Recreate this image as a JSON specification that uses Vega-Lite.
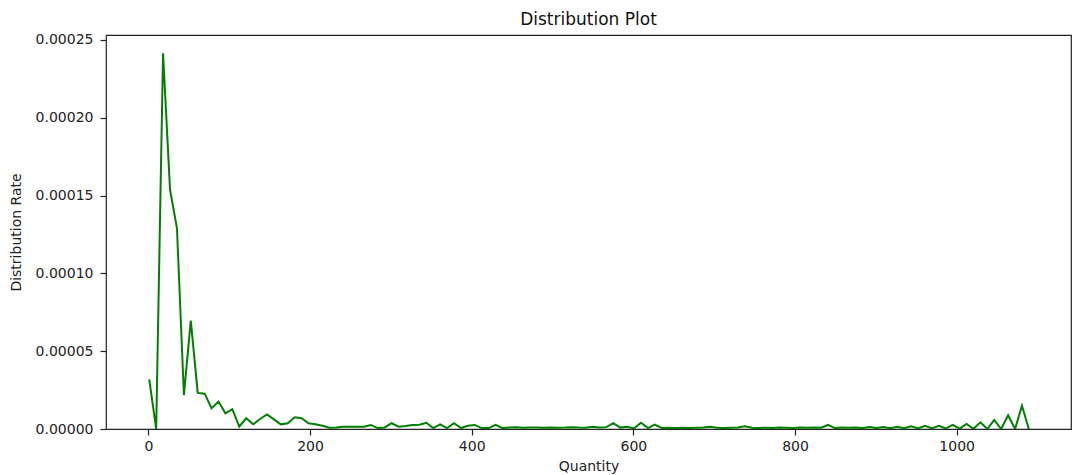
{
  "$schema": "https://vega.github.io/schema/vega-lite/v6.json",
  "width": 965,
  "height": 394,
  "autosize": {"type": "none"},
  "padding": {"left": 106, "top": 35, "right": 2, "bottom": 46},
  "background": "white",
  "title": {
    "text": "Distribution Plot",
    "font": "DejaVu Sans",
    "fontSize": 17,
    "fontWeight": "normal",
    "color": "#111",
    "anchor": "middle",
    "offset": 4
  },
  "config": {
    "view": {"stroke": "#222", "strokeWidth": 1.2},
    "axis": {
      "domain": false,
      "grid": false,
      "labelFont": "DejaVu Sans",
      "labelFontSize": 14,
      "labelColor": "#222",
      "titleFont": "DejaVu Sans",
      "titleFontSize": 14,
      "titleFontWeight": "normal",
      "titleColor": "#222",
      "tickColor": "#222",
      "tickSize": 6,
      "tickWidth": 1.2
    }
  },
  "data": {
    "values": [
      {"Quantity": 1.0, "Rate": 0.0000319},
      {"Quantity": 9.6, "Rate": 0.0},
      {"Quantity": 18.1, "Rate": 0.0002415},
      {"Quantity": 26.7, "Rate": 0.000154},
      {"Quantity": 35.3, "Rate": 0.000129},
      {"Quantity": 43.9, "Rate": 0.0000218},
      {"Quantity": 52.4, "Rate": 0.0000696},
      {"Quantity": 61.0, "Rate": 0.0000232},
      {"Quantity": 69.6, "Rate": 0.0000227},
      {"Quantity": 78.1, "Rate": 0.0000133},
      {"Quantity": 86.7, "Rate": 0.0000176},
      {"Quantity": 95.3, "Rate": 0.0000101},
      {"Quantity": 103.8, "Rate": 0.0000127},
      {"Quantity": 112.4, "Rate": 0.0000016},
      {"Quantity": 121.0, "Rate": 0.0000069},
      {"Quantity": 129.6, "Rate": 0.000003},
      {"Quantity": 138.1, "Rate": 0.0000064},
      {"Quantity": 146.7, "Rate": 0.0000094},
      {"Quantity": 155.3, "Rate": 0.0000062},
      {"Quantity": 163.8, "Rate": 0.000003},
      {"Quantity": 172.4, "Rate": 0.0000037},
      {"Quantity": 181.0, "Rate": 0.0000075},
      {"Quantity": 189.5, "Rate": 0.0000069},
      {"Quantity": 198.1, "Rate": 0.0000037},
      {"Quantity": 206.7, "Rate": 0.000003},
      {"Quantity": 215.3, "Rate": 0.0000021},
      {"Quantity": 223.8, "Rate": 0.0000008},
      {"Quantity": 232.4, "Rate": 0.000001},
      {"Quantity": 241.0, "Rate": 0.0000015},
      {"Quantity": 249.5, "Rate": 0.0000015},
      {"Quantity": 258.1, "Rate": 0.0000015},
      {"Quantity": 266.7, "Rate": 0.0000015},
      {"Quantity": 275.2, "Rate": 0.0000026},
      {"Quantity": 283.8, "Rate": 0.0000006},
      {"Quantity": 292.4, "Rate": 0.000001},
      {"Quantity": 300.9, "Rate": 0.0000037},
      {"Quantity": 309.5, "Rate": 0.0000015},
      {"Quantity": 318.1, "Rate": 0.0000019},
      {"Quantity": 326.7, "Rate": 0.0000026},
      {"Quantity": 335.2, "Rate": 0.0000028},
      {"Quantity": 343.8, "Rate": 0.000004},
      {"Quantity": 352.4, "Rate": 0.0000006},
      {"Quantity": 360.9, "Rate": 0.000003},
      {"Quantity": 369.5, "Rate": 0.0000006},
      {"Quantity": 378.1, "Rate": 0.0000037},
      {"Quantity": 386.7, "Rate": 0.0000006},
      {"Quantity": 395.2, "Rate": 0.0000021},
      {"Quantity": 403.8, "Rate": 0.0000026},
      {"Quantity": 412.4, "Rate": 0.0000006},
      {"Quantity": 420.9, "Rate": 0.0000006},
      {"Quantity": 429.5, "Rate": 0.0000026},
      {"Quantity": 438.1, "Rate": 0.0000006},
      {"Quantity": 446.6, "Rate": 0.0000009},
      {"Quantity": 455.2, "Rate": 0.0000011},
      {"Quantity": 463.8, "Rate": 0.0000008},
      {"Quantity": 472.4, "Rate": 0.000001},
      {"Quantity": 480.9, "Rate": 0.0000009},
      {"Quantity": 489.5, "Rate": 0.0000008},
      {"Quantity": 498.1, "Rate": 0.0000009},
      {"Quantity": 506.6, "Rate": 0.0000008},
      {"Quantity": 515.2, "Rate": 0.0000009},
      {"Quantity": 523.8, "Rate": 0.0000011},
      {"Quantity": 532.3, "Rate": 0.0000009},
      {"Quantity": 540.9, "Rate": 0.0000008},
      {"Quantity": 549.5, "Rate": 0.0000015},
      {"Quantity": 558.1, "Rate": 0.0000009},
      {"Quantity": 566.6, "Rate": 0.0000012},
      {"Quantity": 575.2, "Rate": 0.0000037},
      {"Quantity": 583.8, "Rate": 0.0000009},
      {"Quantity": 592.3, "Rate": 0.0000015},
      {"Quantity": 600.9, "Rate": 0.0000004},
      {"Quantity": 609.5, "Rate": 0.000004},
      {"Quantity": 618.0, "Rate": 0.0000006},
      {"Quantity": 626.6, "Rate": 0.0000028},
      {"Quantity": 635.2, "Rate": 0.0000006},
      {"Quantity": 643.8, "Rate": 0.0000008},
      {"Quantity": 652.3, "Rate": 0.0000007},
      {"Quantity": 660.9, "Rate": 0.0000008},
      {"Quantity": 669.5, "Rate": 0.0000007},
      {"Quantity": 678.0, "Rate": 0.0000008},
      {"Quantity": 686.6, "Rate": 0.0000009},
      {"Quantity": 695.2, "Rate": 0.0000015},
      {"Quantity": 703.7, "Rate": 0.0000008},
      {"Quantity": 712.3, "Rate": 0.0000007},
      {"Quantity": 720.9, "Rate": 0.0000008},
      {"Quantity": 729.5, "Rate": 0.0000009},
      {"Quantity": 738.0, "Rate": 0.0000017},
      {"Quantity": 746.6, "Rate": 0.0000008},
      {"Quantity": 755.2, "Rate": 0.0000007},
      {"Quantity": 763.7, "Rate": 0.0000008},
      {"Quantity": 772.3, "Rate": 0.0000007},
      {"Quantity": 780.9, "Rate": 0.0000009},
      {"Quantity": 789.4, "Rate": 0.0000008},
      {"Quantity": 798.0, "Rate": 0.0000007},
      {"Quantity": 806.6, "Rate": 0.0000009},
      {"Quantity": 815.2, "Rate": 0.0000008},
      {"Quantity": 823.7, "Rate": 0.0000009},
      {"Quantity": 832.3, "Rate": 0.0000008},
      {"Quantity": 840.9, "Rate": 0.0000026},
      {"Quantity": 849.4, "Rate": 0.0000006},
      {"Quantity": 858.0, "Rate": 0.0000009},
      {"Quantity": 866.6, "Rate": 0.0000008},
      {"Quantity": 875.1, "Rate": 0.000001},
      {"Quantity": 883.7, "Rate": 0.0000006},
      {"Quantity": 892.3, "Rate": 0.0000012},
      {"Quantity": 900.9, "Rate": 0.0000006},
      {"Quantity": 909.4, "Rate": 0.0000013},
      {"Quantity": 918.0, "Rate": 0.0000005},
      {"Quantity": 926.6, "Rate": 0.0000015},
      {"Quantity": 935.1, "Rate": 0.0000005},
      {"Quantity": 943.7, "Rate": 0.0000017},
      {"Quantity": 952.3, "Rate": 0.0000004},
      {"Quantity": 960.8, "Rate": 0.0000021},
      {"Quantity": 969.4, "Rate": 0.0000004},
      {"Quantity": 978.0, "Rate": 0.0000021},
      {"Quantity": 986.6, "Rate": 0.0000003},
      {"Quantity": 995.1, "Rate": 0.0000026},
      {"Quantity": 1003.7, "Rate": 0.0000002},
      {"Quantity": 1012.3, "Rate": 0.0000032},
      {"Quantity": 1020.8, "Rate": 0.0000001},
      {"Quantity": 1029.4, "Rate": 0.0000043},
      {"Quantity": 1038.0, "Rate": 0.0},
      {"Quantity": 1046.5, "Rate": 0.0000058},
      {"Quantity": 1055.1, "Rate": 0.0},
      {"Quantity": 1063.7, "Rate": 0.0000088},
      {"Quantity": 1072.3, "Rate": 0.0},
      {"Quantity": 1080.8, "Rate": 0.0000149},
      {"Quantity": 1089.4, "Rate": 0.0}
    ]
  },
  "mark": {"type": "line", "color": "#008000", "strokeWidth": 2, "clip": true},
  "encoding": {
    "x": {
      "field": "Quantity",
      "type": "quantitative",
      "title": "Quantity",
      "scale": {"domain": [-52.5, 1141.5], "nice": false, "zero": false},
      "axis": {"values": [0, 200, 400, 600, 800, 1000], "format": "d", "labelPadding": 4, "titlePadding": 6, "labelFlush": false}
    },
    "y": {
      "field": "Rate",
      "type": "quantitative",
      "title": "Distribution Rate",
      "scale": {"domain": [0, 0.0002532], "nice": false, "zero": false},
      "axis": {"values": [0, 0.00005, 0.0001, 0.00015, 0.0002, 0.00025], "format": ".5f", "labelPadding": 7, "titlePadding": 12, "labelFlush": false}
    }
  }
}
